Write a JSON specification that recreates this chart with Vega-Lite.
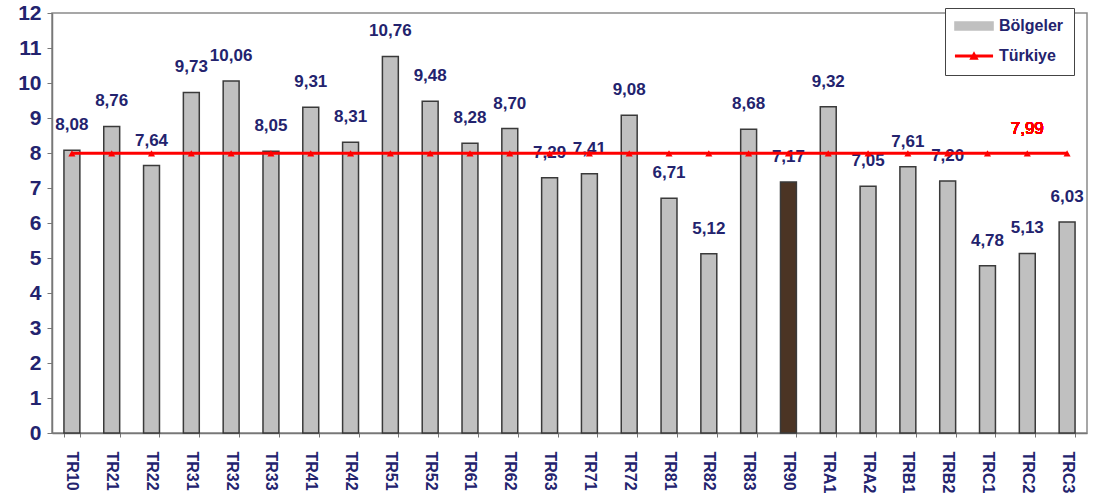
{
  "$schema": "https://vega.github.io/schema/vega-lite/v6.json",
  "width": 1035,
  "height": 420,
  "autosize": {"type": "none"},
  "padding": {"left": 52, "top": 13, "right": 7, "bottom": 66},
  "background": "white",
  "config": {
    "view": {"stroke": "#8a8a8a", "strokeWidth": 1.5},
    "font": "Liberation Sans"
  },
  "data": {
    "values": [
      {"region": "TR10", "value": 8.08, "label": "8,08", "turkiye": 7.99},
      {"region": "TR21", "value": 8.76, "label": "8,76", "turkiye": 7.99},
      {"region": "TR22", "value": 7.64, "label": "7,64", "turkiye": 7.99},
      {"region": "TR31", "value": 9.73, "label": "9,73", "turkiye": 7.99},
      {"region": "TR32", "value": 10.06, "label": "10,06", "turkiye": 7.99},
      {"region": "TR33", "value": 8.05, "label": "8,05", "turkiye": 7.99},
      {"region": "TR41", "value": 9.31, "label": "9,31", "turkiye": 7.99},
      {"region": "TR42", "value": 8.31, "label": "8,31", "turkiye": 7.99},
      {"region": "TR51", "value": 10.76, "label": "10,76", "turkiye": 7.99},
      {"region": "TR52", "value": 9.48, "label": "9,48", "turkiye": 7.99},
      {"region": "TR61", "value": 8.28, "label": "8,28", "turkiye": 7.99},
      {"region": "TR62", "value": 8.70, "label": "8,70", "turkiye": 7.99},
      {"region": "TR63", "value": 7.29, "label": "7,29", "turkiye": 7.99},
      {"region": "TR71", "value": 7.41, "label": "7,41", "turkiye": 7.99},
      {"region": "TR72", "value": 9.08, "label": "9,08", "turkiye": 7.99},
      {"region": "TR81", "value": 6.71, "label": "6,71", "turkiye": 7.99},
      {"region": "TR82", "value": 5.12, "label": "5,12", "turkiye": 7.99},
      {"region": "TR83", "value": 8.68, "label": "8,68", "turkiye": 7.99},
      {"region": "TR90", "value": 7.17, "label": "7,17", "turkiye": 7.99},
      {"region": "TRA1", "value": 9.32, "label": "9,32", "turkiye": 7.99},
      {"region": "TRA2", "value": 7.05, "label": "7,05", "turkiye": 7.99},
      {"region": "TRB1", "value": 7.61, "label": "7,61", "turkiye": 7.99},
      {"region": "TRB2", "value": 7.20, "label": "7,20", "turkiye": 7.99},
      {"region": "TRC1", "value": 4.78, "label": "4,78", "turkiye": 7.99},
      {"region": "TRC2", "value": 5.13, "label": "5,13", "turkiye": 7.99},
      {"region": "TRC3", "value": 6.03, "label": "6,03", "turkiye": 7.99}
    ]
  },
  "encoding": {
    "x": {
      "field": "region",
      "type": "nominal",
      "sort": null,
      "scale": {"paddingInner": 0.6, "paddingOuter": 0.3},
      "axis": {
        "title": null,
        "labelAngle": 90,
        "labelAlign": "left",
        "labelBaseline": "middle",
        "labelFontSize": 16,
        "labelFontWeight": "bold",
        "labelColor": "#23236e",
        "labelPadding": 14,
        "tickBand": "extent",
        "tickColor": "#777",
        "tickSize": 4,
        "domainColor": "#777",
        "domainWidth": 1.5
      }
    },
    "y": {
      "field": "value",
      "type": "quantitative",
      "scale": {"domain": [0, 12], "nice": false},
      "axis": {
        "title": null,
        "values": [0, 1, 2, 3, 4, 5, 6, 7, 8, 9, 10, 11, 12],
        "grid": false,
        "labelOverlap": false,
        "labelFontSize": 21,
        "labelFontWeight": "bold",
        "labelColor": "#23236e",
        "labelPadding": 6,
        "tickColor": "#777",
        "tickSize": 5,
        "domainColor": "#777",
        "domainWidth": 1.5
      }
    }
  },
  "layer": [
    {
      "mark": {"type": "bar", "stroke": "#3a3a3a", "strokeWidth": 1.5},
      "encoding": {
        "color": {
          "condition": {"test": "datum.region === 'TR90'", "value": "#4b3424"},
          "datum": "Bölgeler",
          "scale": {"domain": ["Bölgeler", "Türkiye"], "range": ["#c0c0c0", "#ff0000"]},
          "legend": {
            "title": null,
            "orient": "none",
            "legendX": 893,
            "legendY": -5,
            "direction": "vertical",
            "strokeColor": "#444",
            "fillColor": "white",
            "padding": 10,
            "labelFont": "Liberation Sans",
            "labelFontSize": 16,
            "labelFontWeight": "bold",
            "labelColor": "#23236e",
            "symbolSize": 300,
            "symbolType": "square",
            "symbolStrokeWidth": 1.5,
            "symbolStrokeColor": "#333",
            "symbolOffset": 11,
            "rowPadding": 14,
            "labelOffset": 17,
            "encode": {
              "symbols": {
                "update": {
                  "shape": {"signal": "datum.value === 'Türkiye' ? 'M-2.2,0L2.2,0M-0.25,0.25L0,-0.2L0.25,0.25Z' : 'M-2.2,-0.45L2.2,-0.45L2.2,0.45L-2.2,0.45Z'"},
                  "fill": {"signal": "datum.value === 'Türkiye' ? '#ff0000' : '#c0c0c0'"},
                  "stroke": {"signal": "datum.value === 'Türkiye' ? '#ff0000' : '#333'"},
                  "strokeWidth": {"signal": "datum.value === 'Türkiye' ? 3 : 1.5"}
                }
              }
            }
          }
        }
      }
    },
    {
      "mark": {"type": "text", "baseline": "middle", "dy": -25, "fontSize": 17, "fontWeight": "bold", "color": "#23236e"},
      "encoding": {
        "text": {"field": "label"}
      }
    },
    {
      "mark": {"type": "line", "strokeWidth": 3, "point": {"shape": "triangle-up", "filled": true, "size": 50, "color": "#e00000"}},
      "encoding": {
        "y": {"field": "turkiye", "type": "quantitative"},
        "color": {"datum": "Türkiye"}
      }
    },
    {
      "mark": {"type": "text", "baseline": "middle", "dy": -24, "fontSize": 17, "fontWeight": "normal", "color": "#ff0000"},
      "encoding": {
        "x": {"datum": "TRC2"},
        "y": {"datum": 7.99},
        "text": {"value": "7,99"}
      }
    }
  ]
}
